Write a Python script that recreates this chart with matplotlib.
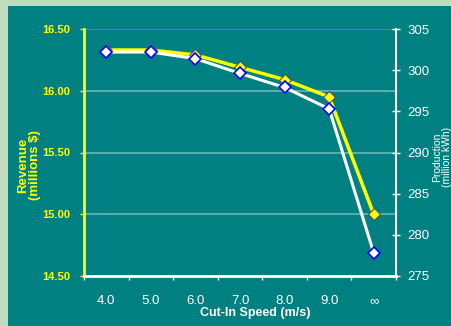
import matplotlib
matplotlib.use('Agg')
import matplotlib.pyplot as plt
import numpy as np

speeds = ['4.0', '5.0', '6.0', '7.0', '8.0', '9.0', '\u221e']
revenue = [16.33, 16.33, 16.29, 16.19, 16.09, 15.95, 15.00]
production = [302.2, 302.2, 301.4, 299.6, 297.9, 295.3, 277.8]

teal = '#008080'
yellow = '#ffff00'
plt.rcParams['font.family'] = ['Liberation Sans', 'DejaVu Sans']

fig = plt.figure(figsize=(4.51, 3.26), dpi=100)
fig.patch.set_facecolor('#c0dcc0')
fig.patches.append(plt.Rectangle((8 / 451, 0), 1, 1 - 6 / 326, transform=fig.transFigure,
                                 facecolor=teal, edgecolor='none', zorder=-10))

ax = fig.add_axes([84 / 451, 1 - 276 / 326, 312 / 451, 247 / 326])
ax.set_facecolor('none')
ax2 = ax.twinx()

x = np.arange(len(speeds)) + 0.5
ax.plot(x, revenue, color=yellow, lw=2.5, marker='D', ms=6, mfc=yellow, mec='#505070', mew=0.8,
        zorder=3, clip_on=False)
ax2.plot(x, production, color='white', lw=2.2, marker='D', ms=6.5, mfc='white', mec='#0000ff', mew=1.2,
         zorder=3, clip_on=False)

ax.set_xlim(0, len(speeds))
ax.set_ylim(14.5, 16.5)
ax2.set_ylim(275, 305)

ax.set_yticks(np.arange(14.5, 16.51, 0.5))
ax.set_yticklabels(['%.2f' % v for v in np.arange(14.5, 16.51, 0.5)])
ax2.set_yticks(np.arange(275, 306, 5))
ax.set_xticks(np.arange(len(speeds) + 1))
ax.set_xticklabels([])
ax.set_xticks(x, minor=True)
ax.set_xticklabels(speeds, minor=True)

for v in [15.0, 15.5, 16.0]:
    ax.axhline(v, color='#6bb5b5', lw=1.2, zorder=1)
ax.axhline(16.5, color='#808080', lw=1.2, zorder=1)

for a in (ax, ax2):
    a.spines['top'].set_visible(False)
ax.spines['left'].set_color(yellow)
ax.spines['left'].set_linewidth(2)
ax.spines['bottom'].set_color('white')
ax.spines['bottom'].set_linewidth(2)
ax.spines['right'].set_visible(False)
ax2.spines['left'].set_visible(False)
ax2.spines['bottom'].set_visible(False)
ax2.spines['right'].set_color('white')
ax2.spines['right'].set_linewidth(1.5)

ax.tick_params(axis='y', colors=yellow, labelsize=8, length=3, width=1, direction='out', pad=7)
for t in ax.get_yticklabels():
    t.set_fontweight('bold')
ax.tick_params(axis='x', which='major', colors='white', length=3, width=1, direction='out')
ax.tick_params(axis='x', which='minor', length=0, labelcolor='white', labelsize=9.5, pad=14)
ax2.tick_params(axis='y', colors='white', labelsize=9.5, length=6, width=1, direction='inout', pad=5)

ax.set_xlabel('Cut-In Speed (m/s)', color='white', fontsize=9, fontweight='bold', labelpad=2)
ax.xaxis.set_label_coords(0.55, -0.125)
fig.text(29 / 451, 1 - 165 / 326, 'Revenue\n(millions $)', rotation=90, color=yellow, fontsize=9.5,
         fontweight='bold', ha='center', va='center', linespacing=1.0)
fig.text(442 / 451, 1 - 157 / 326, 'Production\n(million kWh)', rotation=90, color='white', fontsize=7.5,
         ha='center', va='center', linespacing=1.0)

fig.savefig('out.png', dpi=100, facecolor=fig.get_facecolor())
